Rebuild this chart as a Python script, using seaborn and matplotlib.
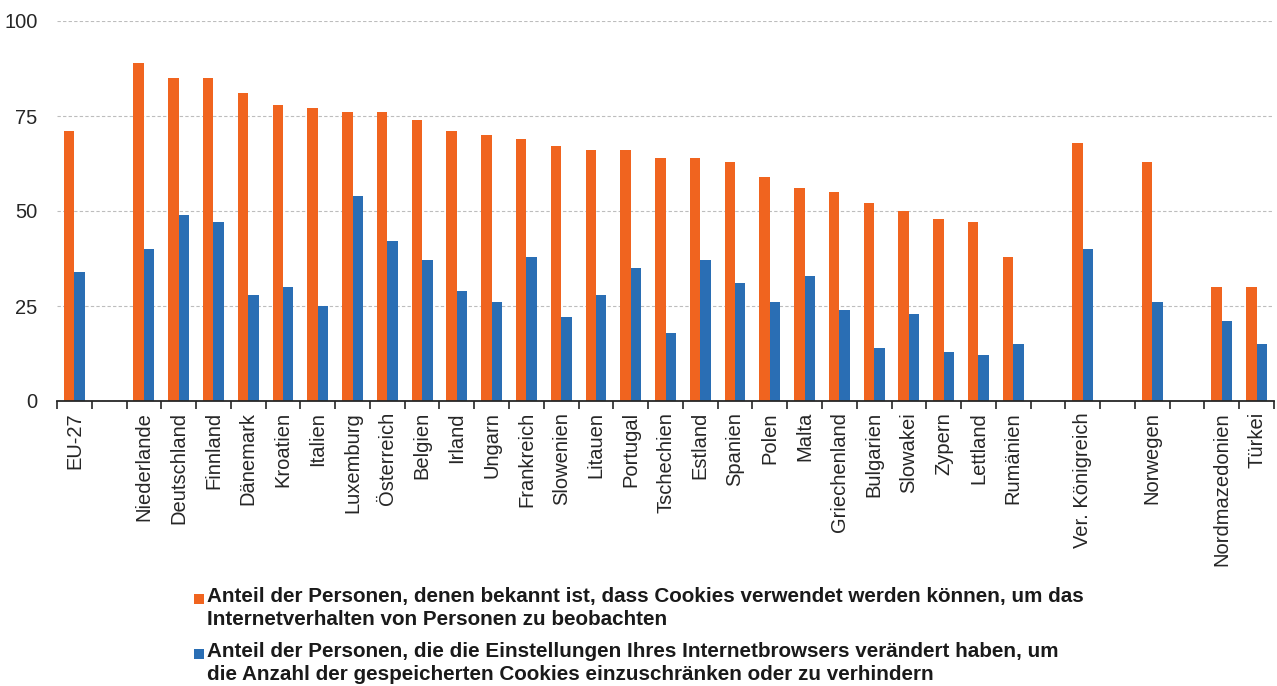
import matplotlib
matplotlib.use("Agg")
import matplotlib.pyplot as plt
import matplotlib.patches as mpatches
from matplotlib.ticker import FixedLocator
import pandas as pd
import seaborn as sns

# Länder (leere Einträge trennen die Gruppen EU-27 / Mitgliedstaaten / Nicht-EU)
laender = ["EU-27", "",
           "Niederlande", "Deutschland", "Finnland", "Dänemark", "Kroatien",
           "Italien", "Luxemburg", "Österreich", "Belgien", "Irland", "Ungarn",
           "Frankreich", "Slowenien", "Litauen", "Portugal", "Tschechien",
           "Estland", "Spanien", "Polen", "Malta", "Griechenland", "Bulgarien",
           "Slowakei", "Zypern", "Lettland", "Rumänien", "",
           "Ver. Königreich", "", "Norwegen", "", "Nordmazedonien", "Türkei"]

# Anteil der Personen (%), None = Lücke
bekannt = [71, None,
           89, 85, 85, 81, 78, 77, 76, 76, 74, 71, 70, 69, 67, 66, 66, 64,
           64, 63, 59, 56, 55, 52, 50, 48, 47, 38, None,
           68, None, 63, None, 30, 30]
veraendert = [34, None,
              40, 49, 47, 28, 30, 25, 54, 42, 37, 29, 26, 38, 22, 28, 35, 18,
              37, 31, 26, 33, 24, 14, 23, 13, 12, 15, None,
              40, None, 26, None, 21, 15]

reihen = [
    "Anteil der Personen, denen bekannt ist, dass Cookies verwendet werden können, um das\n"
    "Internetverhalten von Personen zu beobachten",
    "Anteil der Personen, die die Einstellungen Ihres Internetbrowsers verändert haben, um\n"
    "die Anzahl der gespeicherten Cookies einzuschränken oder zu verhindern",
]
farben = ["#F0641F", "#2A6EB4"]
y_ticks = [0, 25, 50, 75, 100]

# eindeutige Schlüssel für die Kategorien (Lücken brauchen eigene Namen)
schluessel = [f"k{i}" for i in range(len(laender))]
zeilen = []
for k, a, b in zip(schluessel, bekannt, veraendert):
    if a is not None:
        zeilen.append({"land": k, "wert": a, "reihe": reihen[0]})
    if b is not None:
        zeilen.append({"land": k, "wert": b, "reihe": reihen[1]})
df = pd.DataFrame(zeilen)

sns.set_style("white")
plt.rcParams["font.family"] = ["Liberation Sans", "DejaVu Sans"]

W, H = 1277, 686
fig = plt.figure(figsize=(W / 100, H / 100), dpi=100)
ax = fig.add_axes([57 / W, 1 - 401 / H, (1274 - 57) / W, (401 - 21) / H])

sns.barplot(data=df, x="land", y="wert", hue="reihe", order=schluessel,
            hue_order=reihen, palette=farben, width=0.6, gap=0,
            linewidth=0, saturation=1, legend=False, ax=ax)

ax.set_xlim(-0.5, len(laender) - 0.5)
ax.set_ylim(0, 100)
ax.set_xlabel("")
ax.set_ylabel("")

ax.set_yticks(y_ticks)
ax.set_yticklabels([str(v) for v in y_ticks], fontsize=14.5, color="#262626")
ax.tick_params(axis="y", length=0, pad=14)
ax.yaxis.grid(True, color="#BDBDBD", linestyle=(0, (3, 2)), linewidth=0.8)
ax.set_axisbelow(True)

ax.set_xticks(range(len(laender)))
ax.set_xticklabels(laender, rotation=90, fontsize=14.5, color="#262626")
ax.tick_params(axis="x", which="major", length=0, pad=8)
ax.xaxis.set_minor_locator(FixedLocator([i - 0.5 for i in range(len(laender) + 1)]))
ax.tick_params(axis="x", which="minor", length=6, width=1.2, color="#262626",
               direction="out", bottom=True)

for s in ["left", "right", "top"]:
    ax.spines[s].set_visible(False)
ax.spines["bottom"].set_color("#262626")
ax.spines["bottom"].set_linewidth(1.3)

# Legende unter dem Diagramm: Farbfeld + zweizeiliger Text
legende_y = [587, 642]
for farbe, text, y in zip(farben, reihen, legende_y):
    fig.add_artist(mpatches.Rectangle((194 / W, 1 - (y + 17) / H), 10 / W, 10 / H,
                                      transform=fig.transFigure, color=farbe, lw=0))
    fig.text(207 / W, 1 - y / H, text, ha="left", va="top", fontsize=14.9,
             fontweight="bold", color="#1a1a1a", linespacing=1.25)

fig.savefig("out.png", dpi=100)
